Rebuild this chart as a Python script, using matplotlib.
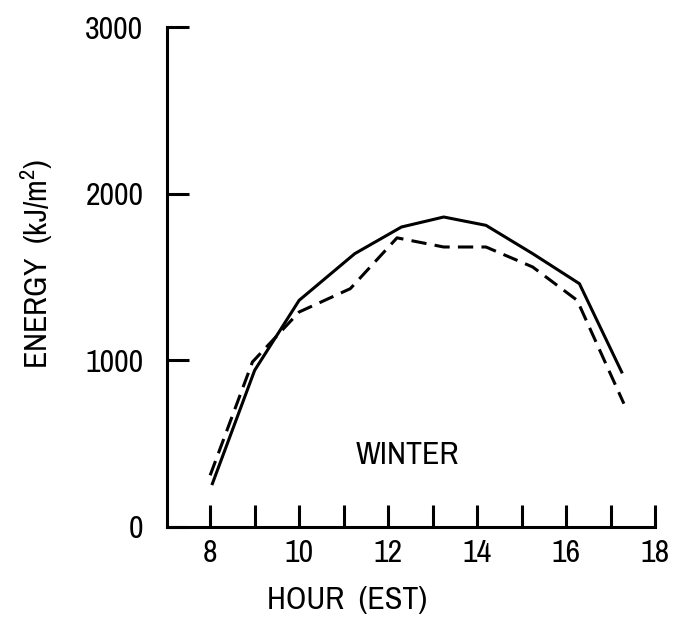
import numpy as np
import matplotlib
matplotlib.use("Agg")
import matplotlib.pyplot as plt
from matplotlib import font_manager

# buscar una fuente estrecha parecida a la del original
fuente = 'Roboto'
estiramiento = 'normal'
for f in font_manager.fontManager.ttflist:
    if 'Narrow' in f.name or 'Condensed' in f.name:
        fuente = f.name
        break
    if f.name == 'DejaVu Sans' and f.stretch in ('condensed', 'semi-condensed'):
        fuente = 'DejaVu Sans'
        estiramiento = 'condensed'
plt.rcParams['font.family'] = [fuente, 'DejaVu Sans']
plt.rcParams['font.stretch'] = estiramiento
plt.rcParams['mathtext.fontset'] = 'custom'
plt.rcParams['mathtext.rm'] = fuente
plt.rcParams['mathtext.default'] = 'rm'

# datos (WINTER)
horas_continua = [8.05, 9.0, 10.0, 11.25, 12.3, 13.25, 14.2, 15.25, 16.3, 17.25]
energia_continua = [260, 940, 1360, 1640, 1800, 1860, 1810, 1640, 1460, 930]
horas_discontinua = [8.0, 8.95, 10.0, 11.15, 12.2, 13.25, 14.2, 15.25, 16.25, 17.3]
energia_discontinua = [310, 990, 1290, 1430, 1735, 1680, 1680, 1560, 1360, 740]

ticks_x = list(range(8, 19))
etiquetas_x = [str(h) if h % 2 == 0 else "" for h in ticks_x]
ticks_y = [0, 1000, 2000, 3000]

tam = 23

fig = plt.figure(figsize=(6.89, 6.37), dpi=100)
ax = fig.add_axes([0.2424, 0.1727, 0.7083, 0.7849])

ax.plot(horas_continua, energia_continua, color='black', lw=2.2)
ax.plot(horas_discontinua, energia_discontinua, color='black', lw=2.2,
        linestyle=(0, (5, 2.7)))

ax.set_xlim(7.03, 18)
ax.set_ylim(0, 3000)
ax.spines['top'].set_visible(False)
ax.spines['right'].set_visible(False)
for s in ['left', 'bottom']:
    ax.spines[s].set_linewidth(2.2)

ax.set_xticks(ticks_x)
ax.set_xticklabels(etiquetas_x)
ax.set_yticks(ticks_y)
ax.tick_params(axis='x', direction='in', length=16, width=2.2, pad=9, labelsize=tam)
ax.tick_params(axis='y', direction='in', length=16, width=2.2, pad=17, labelsize=tam)

ax.text(12.43, 432, "WINTER", fontsize=tam, ha='center', va='center')

fig.text(0.503, 0.058, "HOUR  (EST)", fontsize=tam, ha='center', va='center')
fig.text(0.054, 0.585, r"ENERGY  (kJ/m$^2$)", fontsize=tam, ha='center',
         va='center', rotation=90)

fig.savefig("out.png", dpi=100)
